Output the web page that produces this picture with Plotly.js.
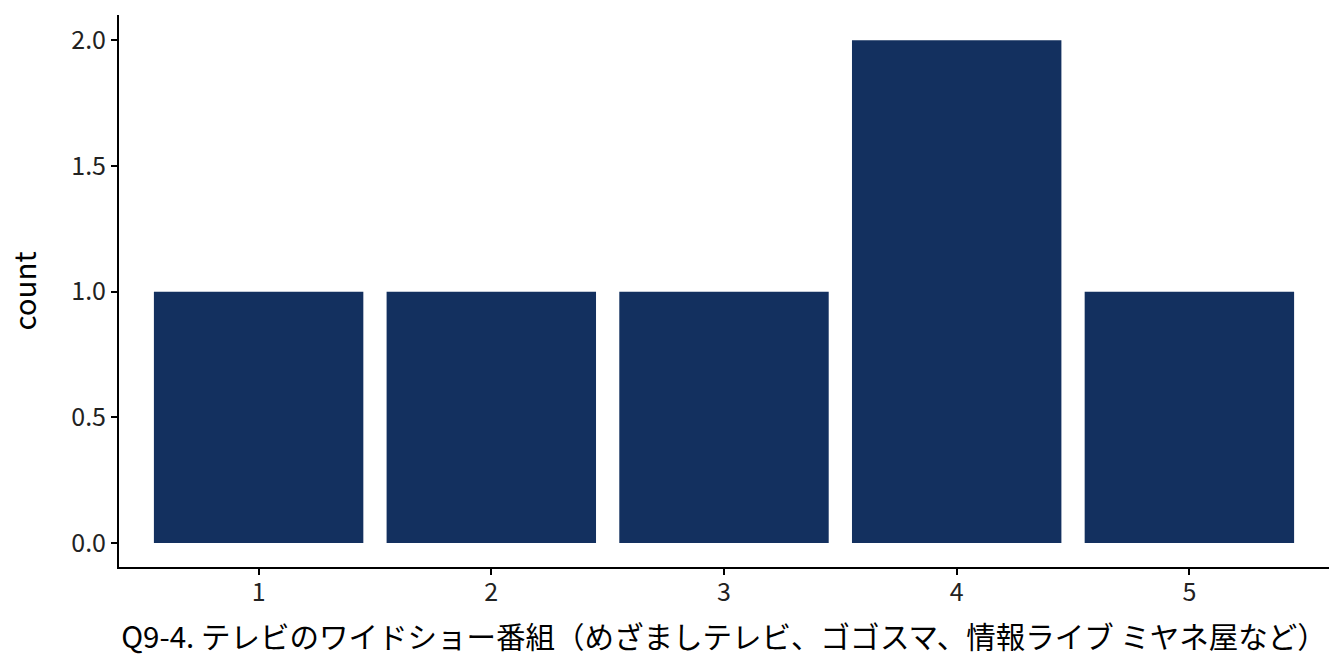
<!DOCTYPE html>
<html>
<head>
<meta charset="utf-8">
<script src="https://cdn.plot.ly/plotly-3.0.1.min.js"></script>
<style>html,body{margin:0;padding:0;background:#fff;}#chart{width:1344px;height:672px;}</style>
</head>
<body>
<div id="chart"></div>
<script>
const categories = [1, 2, 3, 4, 5];
const counts = [1, 1, 1, 2, 1];
const yTickVals = [0, 0.5, 1, 1.5, 2];
const yTickText = ["0.0", "0.5", "1.0", "1.5", "2.0"];
const xTitle = "Q9-4. テレビのワイドショー番組（めざましテレビ、ゴゴスマ、情報ライブ ミヤネ屋など）";
const yTitle = "count";

const font = '"Noto Sans CJK JP", "Noto Sans", sans-serif';

Plotly.newPlot('chart', [{
  type: 'bar',
  x: categories,
  y: counts,
  width: 0.9,
  marker: {color: '#13305f', line: {width: 0}},
  hoverinfo: 'none'
}], {
  width: 1344, height: 672,
  margin: {l: 119, r: 15, t: 15, b: 105},
  paper_bgcolor: '#fff', plot_bgcolor: '#fff',
  font: {family: font, color: '#000'},
  showlegend: false,
  xaxis: {
    range: [0.4, 5.6],
    tickvals: categories,
    ticktext: categories.map(String),
    showgrid: false, zeroline: false,
    showline: true, linecolor: '#000', linewidth: 2,
    ticks: 'outside', ticklen: 6, tickwidth: 2, tickcolor: '#000',
    ticklabelstandoff: -4,
    tickfont: {size: 25, color: '#222', family: font},
    title: {text: xTitle, font: {size: 29.5, color: '#000', family: font}, standoff: 20}
  },
  yaxis: {
    range: [-0.095, 2.1],
    tickvals: yTickVals,
    ticktext: yTickText,
    showgrid: false, zeroline: false,
    showline: true, linecolor: '#000', linewidth: 2,
    ticks: 'outside', ticklen: 6, tickwidth: 2, tickcolor: '#000',
    tickfont: {size: 25, color: '#222', family: font},
    title: {text: yTitle, font: {size: 29.5, color: '#000', family: font}, standoff: 26}
  }
}, {staticPlot: true});
</script>
</body>
</html>
